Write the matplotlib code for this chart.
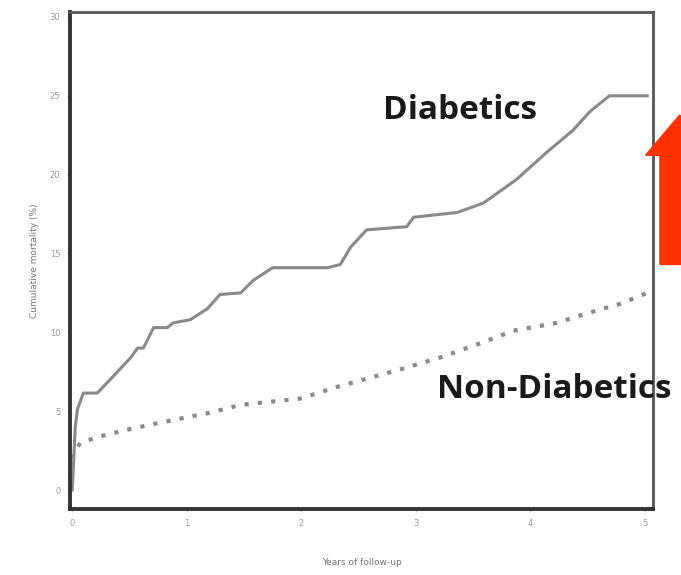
#Importing the libraries
import matplotlib
matplotlib.use("Agg")
import matplotlib.pyplot as plt
from matplotlib.patches import FancyArrow

#Diabetics curve (years, cumulative mortality %)
diab_years = [0.0, 0.026, 0.044, 0.096, 0.218, 0.33, 0.42, 0.51, 0.57, 0.62, 0.71, 0.83,
              0.88, 1.03, 1.18, 1.29, 1.47, 1.58, 1.75, 2.23, 2.34, 2.43, 2.57, 2.92,
              2.98, 3.36, 3.59, 3.88, 4.14, 4.37, 4.52, 4.69, 5.02]
diab_mort = [0.0, 4.0, 5.1, 6.15, 6.15, 7.0, 7.7, 8.4, 9.0, 9.0, 10.3, 10.3,
             10.6, 10.8, 11.5, 12.4, 12.5, 13.3, 14.1, 14.1, 14.3, 15.4, 16.5, 16.7,
             17.3, 17.6, 18.2, 19.7, 21.4, 22.8, 24.0, 25.0, 25.0]

#Non-diabetics curve
nondiab_years = [0.0, 0.01, 0.07, 0.24, 0.46, 0.72, 0.99, 1.20, 1.47, 1.73, 1.99, 2.12,
                 2.34, 2.54, 2.84, 3.21, 3.56, 3.85, 4.23, 4.49, 4.78, 5.02]
nondiab_mort = [2.0, 2.3, 3.0, 3.4, 3.8, 4.2, 4.6, 4.9, 5.4, 5.6, 5.8, 6.1,
                6.6, 7.0, 7.6, 8.4, 9.3, 10.1, 10.6, 11.2, 11.8, 12.5]

x_ticks = [0, 1, 2, 3, 4, 5]
y_ticks = [0, 5, 10, 15, 20, 25, 30]

fig = plt.figure(figsize=(6.81, 5.75), dpi=100)
ax = fig.add_axes([0.1028, 0.1148, 0.856, 0.864])

ax.plot(diab_years, diab_mort, color="#8a8a8a", linewidth=2.2)
ax.plot(nondiab_years, nondiab_mort, color="#8a8a8a", linewidth=3.0, linestyle=(0, (1, 2.2)))

ax.set_xlim(-0.02, 5.07)
ax.set_ylim(-1.2, 30.3)
ax.set_xticks(x_ticks)
ax.set_yticks(y_ticks)
ax.tick_params(labelsize=6, labelcolor="#999999", color="#cccccc", length=2, pad=5)

#Frame: heavy left/bottom, lighter top/right
for side in ["left", "bottom"]:
    ax.spines[side].set_linewidth(2.8)
    ax.spines[side].set_color("#333333")
for side in ["top", "right"]:
    ax.spines[side].set_linewidth(2.0)
    ax.spines[side].set_color("#555555")

ax.set_xlabel("Years of follow-up", fontsize=6.5, color="#777777", labelpad=22)
ax.set_ylabel("Cumulative mortality (%)", fontsize=6.5, color="#777777", labelpad=8)

#Slide annotations
fig.text(0.562, 0.808, "Diabetics", fontsize=24, fontweight="bold",
         family="Open Sans", color="#1a1a1a", va="center")
fig.text(0.641, 0.322, "Non-Diabetics", fontsize=24, fontweight="bold",
         family="Open Sans", color="#1a1a1a", va="center")

#Red arrow pointing up, cut off by the right edge
arrow = FancyArrow(0.998, 0.54, 0, 0.26, width=0.058, head_width=0.1,
                   head_length=0.07, length_includes_head=True,
                   color="#ff3300", transform=fig.transFigure, figure=fig)
fig.patches.append(arrow)

plt.savefig("out.png", dpi=100)
